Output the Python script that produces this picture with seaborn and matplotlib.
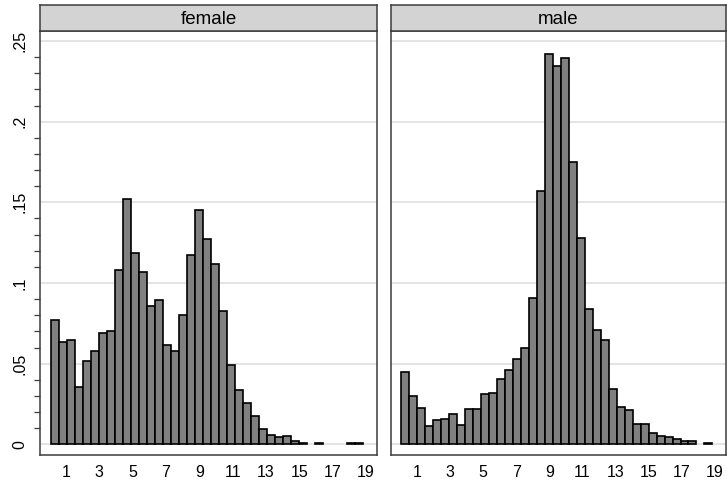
import numpy as np
import pandas as pd
import seaborn as sns
import matplotlib.pyplot as plt
from matplotlib.ticker import MultipleLocator

sns.set_style("white")
plt.rcParams['font.family'] = ['Liberation Sans', 'DejaVu Sans']
plt.rcParams['text.color'] = 'black'
plt.rcParams['xtick.color'] = 'black'
plt.rcParams['ytick.color'] = 'black'

# 39 equal bins shared by both panels (Stata-style histogram, density)
bin_lo, bin_hi, n_bins = 0.07, 18.84, 39
female_density = [0.0769, 0.0636, 0.0647, 0.0357, 0.0519, 0.0581, 0.0692, 0.0705, 0.1080, 0.1519,
                  0.1184, 0.1068, 0.0860, 0.0897, 0.0614, 0.0581, 0.0800, 0.1176, 0.1452, 0.1275,
                  0.1120, 0.0829, 0.0490, 0.0337, 0.0256, 0.0174, 0.0097, 0.0056, 0.0045, 0.0050,
                  0.0020, 0.0008, 0.0, 0.0008, 0.0, 0.0, 0.0, 0.0008, 0.0008]
male_density = [0.0446, 0.0302, 0.0227, 0.0114, 0.0153, 0.0159, 0.0190, 0.0118, 0.0221, 0.0217,
                0.0310, 0.0316, 0.0403, 0.0463, 0.0529, 0.0599, 0.0905, 0.1568, 0.2421, 0.2345,
                0.2395, 0.1750, 0.1281, 0.0841, 0.0709, 0.0647, 0.0344, 0.0233, 0.0214, 0.0126,
                0.0126, 0.0072, 0.0050, 0.0044, 0.0034, 0.0022, 0.0022, 0.0, 0.0008]
panels = ["female", "male"]
xticks = list(range(1, 20, 2))
yticks = [0, 0.05, 0.1, 0.15, 0.2, 0.25]
ylabels = ["0", ".05", ".1", ".15", ".2", ".25"]

edges = np.linspace(bin_lo, bin_hi, n_bins + 1)
centers = (edges[:-1] + edges[1:]) / 2
df = pd.concat([
    pd.DataFrame({"sex": "female", "x": centers, "density": female_density}),
    pd.DataFrame({"sex": "male", "x": centers, "density": male_density}),
])

W, H = 727, 484
fig = plt.figure(figsize=(W / 100, H / 100), dpi=100)
boxes = {"female": (40, 377), "male": (391, 726)}
top, bottom, strip_top = 31, 455, 5
edge_col = "#3c3c3c"

for i, sex in enumerate(panels):
    x0, x1 = boxes[sex]
    ax = fig.add_axes([x0 / W, 1 - bottom / H, (x1 - x0) / W, (bottom - top) / H])
    sub = df[df["sex"] == sex]
    sns.histplot(data=sub, x="x", weights="density", bins=n_bins, binrange=(bin_lo, bin_hi),
                 stat="count", color="#808080", edgecolor="black", linewidth=1.2, alpha=1, ax=ax)
    for p in ax.patches:
        if p.get_height() == 0:
            p.set_visible(False)
    ax.set_xlim(-0.56, 19.66)
    ax.set_ylim(-0.0066, 0.2562)
    ax.set_xticks(xticks)
    ax.set_xticklabels([str(t) for t in xticks], fontsize=11.5)
    ax.set_yticks(yticks)
    ax.yaxis.grid(True, color="#e2e2e2", lw=1.3)
    ax.set_axisbelow(True)
    ax.set_xlabel("")
    ax.set_ylabel("")
    ax.tick_params(axis="x", direction="out", length=5, width=0.9, color=edge_col, pad=2)
    if i == 0:
        ax.set_yticklabels(ylabels, fontsize=11.5, rotation=90, va="center")
        ax.yaxis.set_minor_locator(MultipleLocator(0.01))
        ax.tick_params(axis="y", which="major", direction="out", length=6, width=0.9, color=edge_col, pad=3)
        ax.tick_params(axis="y", which="minor", direction="out", length=4, width=0.9, color=edge_col, left=True)
    else:
        ax.set_yticklabels([])
        ax.tick_params(axis="y", length=0)
    for s in ax.spines.values():
        s.set_visible(True)
        s.set_color(edge_col)
        s.set_linewidth(1.1)

    # panel header strip
    sax = fig.add_axes([x0 / W, 1 - top / H, (x1 - x0) / W, (top - strip_top) / H])
    sax.set_facecolor("#d3d3d3")
    sax.set_xticks([])
    sax.set_yticks([])
    for s in sax.spines.values():
        s.set_color(edge_col)
        s.set_linewidth(1.1)
    sax.text(0.5, 0.45, sex, ha="center", va="center", fontsize=13.5, transform=sax.transAxes)

fig.savefig("out.png", dpi=100)
